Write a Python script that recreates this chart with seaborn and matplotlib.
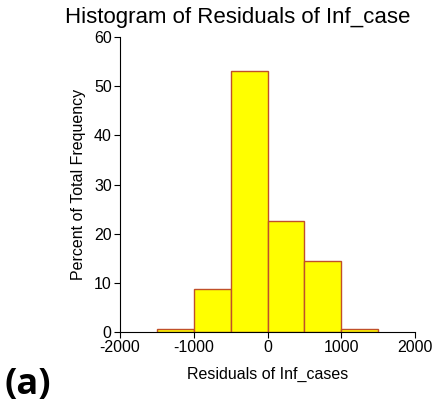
import numpy as np
import matplotlib
matplotlib.use("Agg")
import matplotlib.pyplot as plt
import seaborn as sns

# histogram of residuals (percent of total)
bin_edges = [-1500, -1000, -500, 0, 500, 1000, 1500]
bin_centers = [-1250, -750, -250, 250, 750, 1250]
percent = [0.7, 8.8, 53.1, 22.6, 14.4, 0.7]
x_ticks = [-2000, -1000, 0, 1000, 2000]
y_ticks = [0, 10, 20, 30, 40, 50, 60]

sns.set_style("ticks")
plt.rcParams["font.family"] = ["Liberation Sans", "DejaVu Sans"]
plt.rcParams["axes.unicode_minus"] = False
plt.rcParams["text.color"] = "black"
plt.rcParams["axes.labelcolor"] = "black"
plt.rcParams["xtick.color"] = "black"
plt.rcParams["ytick.color"] = "black"

fig = plt.figure(figsize=(4.35, 4.12), dpi=100)
ax = fig.add_axes([0.276, 0.194, 0.678, 0.716])

sns.histplot(x=bin_centers, weights=percent, bins=bin_edges, ax=ax,
             color="#FFFF00", edgecolor="#C0502A", linewidth=1.0, alpha=1.0)

ax.set_xlim(-2000, 2000)
ax.set_ylim(0, 60)
ax.set_xticks(x_ticks)
ax.set_yticks(y_ticks)
ax.tick_params(axis="both", labelsize=11.5, length=4, width=0.8, pad=2)
sns.despine(ax=ax)
for s in ["left", "bottom"]:
    ax.spines[s].set_linewidth(0.8)
    ax.spines[s].set_color("black")

ax.set_xlabel("Residuals of Inf_cases", fontsize=11.5, labelpad=8)
ax.set_ylabel("Percent of Total Frequency", fontsize=11.5, labelpad=6)

fig.text(238 / 435, 1 - 18 / 412, "Histogram of Residuals of Inf_case",
         ha="center", va="center", fontsize=16)
fig.text(4 / 435, 1 - 385 / 412, "(a)", ha="left", va="center",
         fontsize=26, fontweight="bold", family=["Open Sans", "DejaVu Sans"])

fig.savefig("out.png", dpi=100)
